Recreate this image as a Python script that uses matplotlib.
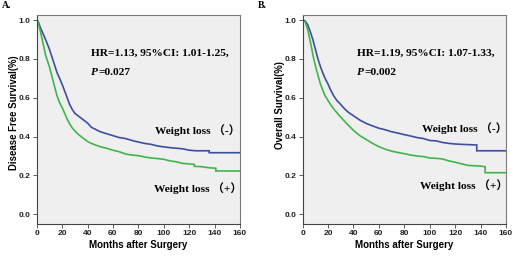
import matplotlib
matplotlib.use("Agg")
import matplotlib.pyplot as plt

# Panel A: Disease free survival (months, survival)
a_neg_t = [0, 1, 3, 5, 7, 10, 12, 14, 16, 18, 20, 22, 24, 26, 28, 30, 33, 36, 40, 43, 47, 50, 55, 60, 65, 70, 75, 80, 85, 90, 95, 100, 105, 110, 115, 120, 125, 135.8, 135.8, 160]
a_neg_s = [1.0, 0.995, 0.96, 0.93, 0.90, 0.85, 0.81, 0.77, 0.73, 0.70, 0.67, 0.635, 0.60, 0.565, 0.54, 0.52, 0.505, 0.49, 0.47, 0.448, 0.435, 0.425, 0.415, 0.405, 0.395, 0.39, 0.38, 0.372, 0.365, 0.36, 0.352, 0.347, 0.343, 0.34, 0.337, 0.33, 0.327, 0.327, 0.317, 0.317]
a_pos_t = [0, 1, 3, 5, 7, 10, 12, 14, 16, 18, 20, 22, 24, 26, 28, 30, 33, 36, 40, 43, 47, 50, 55, 60, 65, 70, 75, 80, 85, 90, 95, 100, 105, 110, 115, 124, 124, 130, 135, 141, 141, 160]
a_pos_s = [1.0, 0.99, 0.94, 0.88, 0.82, 0.76, 0.71, 0.66, 0.61, 0.575, 0.55, 0.52, 0.49, 0.465, 0.445, 0.43, 0.41, 0.395, 0.375, 0.365, 0.355, 0.348, 0.34, 0.33, 0.322, 0.31, 0.305, 0.302, 0.295, 0.29, 0.287, 0.283, 0.275, 0.27, 0.262, 0.257, 0.247, 0.245, 0.24, 0.237, 0.223, 0.223]

# Panel B: Overall survival (months, survival)
b_neg_t = [0, 2, 4, 6, 8, 10, 12, 14, 16, 18, 20, 22, 24.4, 27, 30, 33, 36, 40, 45, 50, 55, 60, 65, 70, 75, 80, 85, 90, 95, 100, 105, 110, 115, 120, 125, 137, 137, 160]
b_neg_s = [1.0, 0.995, 0.975, 0.94, 0.90, 0.85, 0.80, 0.76, 0.725, 0.695, 0.67, 0.64, 0.61, 0.585, 0.565, 0.543, 0.525, 0.507, 0.485, 0.468, 0.455, 0.443, 0.435, 0.425, 0.418, 0.41, 0.403, 0.395, 0.39, 0.38, 0.378, 0.37, 0.365, 0.362, 0.36, 0.357, 0.327, 0.327]
b_pos_t = [0, 2, 4, 6, 8.7, 11, 14, 17.3, 20, 23, 26, 30, 35, 40, 45, 50, 55, 60, 65, 70, 75, 80, 85, 90, 95, 100, 105, 110, 115, 120, 125, 130, 135, 140, 143.6, 143.6, 160]
b_pos_s = [1.0, 0.99, 0.95, 0.89, 0.80, 0.74, 0.67, 0.615, 0.585, 0.555, 0.53, 0.50, 0.465, 0.432, 0.405, 0.385, 0.365, 0.348, 0.335, 0.325, 0.318, 0.312, 0.305, 0.30, 0.297, 0.29, 0.288, 0.285, 0.275, 0.268, 0.26, 0.252, 0.25, 0.248, 0.245, 0.214, 0.214]

x_ticks = [0, 20, 40, 60, 80, 100, 120, 140, 160]
y_ticks = [0.0, 0.2, 0.4, 0.6, 0.8, 1.0]
panel_letters = ["A.", "B."]
y_labels = ["Disease Free Survival(%)", "Overall Survival(%)"]
x_label = "Months after Surgery"
hr_texts = ["HR=1.13, 95%CI: 1.01-1.25,", "HR=1.19, 95%CI: 1.07-1.33,"]
p_texts = ["=0.027", "=0.002"]
neg_label = "Weight loss （-）"
pos_label = "Weight loss （+）"

BLUE = "#3d4f9f"
GREEN = "#41b54b"
serif = ["Liberation Serif", "Noto Sans CJK SC"]
sans = ["Liberation Sans", "DejaVu Sans"]
FS = 8.2

fig = plt.figure(figsize=(5.13, 2.57), dpi=100)
lefts = [0.0715, 0.590]
data = [(a_neg_t, a_neg_s, a_pos_t, a_pos_s), (b_neg_t, b_neg_s, b_pos_t, b_pos_s)]
neg_pos = [(93.2, 0.434), (93.8, 0.446)]
pos_pos = [(92.0, 0.137), (92.7, 0.151)]
letter_x = [0.004, 0.502]
ylab_x = [0.027, 0.546]
ylab_y = [0.56, 0.59]

axes = []
p_objs = []
for i in range(2):
    ax = fig.add_axes([lefts[i], 0.1284, 0.3963, 0.8132])
    axes.append(ax)
    ax.set_facecolor("#efefef")
    nt, ns, pt, ps = data[i]
    ax.plot(nt, ns, color=BLUE, lw=1.2, solid_joinstyle="miter")
    ax.plot(pt, ps, color=GREEN, lw=1.2, solid_joinstyle="miter")
    ax.set_xlim(0, 160)
    ax.set_ylim(-0.05, 1.026)
    ax.set_xticks(x_ticks)
    ax.set_yticks(y_ticks)
    ax.set_yticklabels([f"{v:.1f}" for v in y_ticks])
    for s in ax.spines.values():
        s.set_color("#7a7a7a")
        s.set_linewidth(0.8)
    ax.spines["left"].set_color("#444444")
    ax.spines["bottom"].set_color("#444444")
    ax.tick_params(axis="both", direction="out", length=3, width=0.6, color="#444444",
                   labelsize=6, pad=1.5, top=False, right=False)
    for lab in ax.get_xticklabels() + ax.get_yticklabels():
        lab.set_family(sans)
        lab.set_fontweight("bold")
        lab.set_color("#222222")
    ax.set_xlabel(x_label, family=sans, fontweight="bold", fontsize=7, labelpad=2)
    fig.text(ylab_x[i], ylab_y[i], y_labels[i], rotation=90, ha="center", va="center",
             family=sans, fontweight="bold", fontsize=6.9)
    ax.text(43.0, 0.83, hr_texts[i], family=serif, fontweight="bold", fontsize=FS,
            ha="left", va="center")
    p = ax.text(43.0, 0.73, "P", family=serif, fontweight="bold", style="italic",
                fontsize=FS, ha="left", va="center")
    p_objs.append(p)
    ax.text(neg_pos[i][0], neg_pos[i][1], neg_label, family=serif, fontweight="bold",
            fontsize=FS, ha="left", va="center")
    ax.text(pos_pos[i][0], pos_pos[i][1], pos_label, family=serif, fontweight="bold",
            fontsize=FS, ha="left", va="center")
    fig.text(letter_x[i], 0.977, panel_letters[i], family=serif, fontweight="bold",
             fontsize=7, ha="left", va="center")

fig.canvas.draw()
r = fig.canvas.get_renderer()
for i in range(2):
    bb = p_objs[i].get_window_extent(r)
    x_data = axes[i].transData.inverted().transform((bb.x1, bb.y0))[0]
    axes[i].text(x_data, 0.73, p_texts[i], family=serif, fontweight="bold",
                 fontsize=FS, ha="left", va="center")

fig.savefig("out.png", dpi=100, facecolor="white")
